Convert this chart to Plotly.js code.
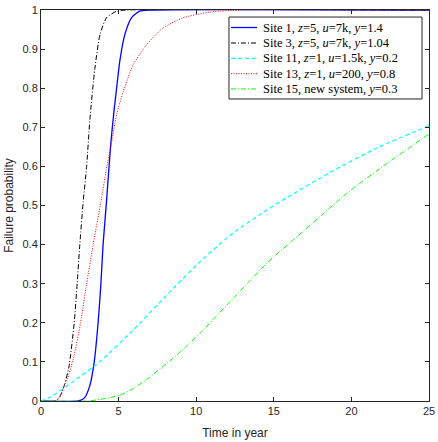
<!DOCTYPE html>
<html>
<head>
<meta charset="utf-8">
<script src="https://cdn.plot.ly/plotly-3.0.1.min.js"></script>
<style>html,body{margin:0;padding:0;background:#fff;}#chart{width:438px;height:442px;}</style>
</head>
<body>
<div id="chart"></div>
<script>
// Site 1 (blue solid)
const site1T = [0, 2.4, 2.8, 3.15, 3.43, 3.68, 3.86, 4.0, 4.22, 4.5, 4.7, 4.9, 5.08, 5.4, 5.83, 6.36, 7.0, 25];
const site1P = [0, 0, 0.008, 0.04, 0.10, 0.2, 0.3, 0.4, 0.51, 0.66, 0.74, 0.81, 0.87, 0.937, 0.98, 0.997, 1, 1];
// Site 3 (black dash-dot)
const site3T = [0, 0.9, 1.2, 1.5, 1.8, 2.14, 2.33, 2.5, 2.72, 2.94, 3.15, 3.47, 3.8, 4.22, 4.87, 5.5, 25];
const site3P = [0, 0, 0.01, 0.04, 0.087, 0.2, 0.3, 0.4, 0.51, 0.6, 0.72, 0.85, 0.937, 0.98, 0.997, 1, 1];
// Site 11 (cyan dashed)
const site11T = [0, 0.6, 2.08, 3.8, 5.95, 8.1, 10.24, 12.39, 14.54, 15.83, 18.6, 21.8, 25];
const site11P = [0, 0.01, 0.05, 0.101, 0.182, 0.271, 0.356, 0.43, 0.488, 0.52, 0.584, 0.65, 0.704];
// Site 13 (red dotted)
const site13T = [0, 1.0, 1.22, 1.69, 2.08, 2.55, 2.94, 3.36, 3.86, 4.2, 4.54, 4.87, 5.3, 5.94, 6.8, 7.86, 9.15, 10.9, 13, 25];
const site13P = [0, 0, 0.013, 0.056, 0.107, 0.2, 0.3, 0.4, 0.51, 0.59, 0.66, 0.732, 0.792, 0.86, 0.911, 0.954, 0.98, 0.995, 1, 1];
// Site 15 (green dash-dot)
const site15T = [0, 3, 3.8, 5.08, 5.95, 6.9, 8.1, 9.1, 10.24, 12.39, 14.54, 16.04, 17.5, 19.7, 22.3, 25];
const site15P = [0, 0, 0.004, 0.015, 0.032, 0.058, 0.096, 0.13, 0.173, 0.263, 0.352, 0.405, 0.455, 0.531, 0.608, 0.683];

const legendNames = [
  "Site 1, <i>z</i>=5, <i>u</i>=7k, <i>y</i>=1.4",
  "Site 3, <i>z</i>=5, <i>u</i>=7k, <i>y</i>=1.04",
  "Site 11, <i>z</i>=1, <i>u</i>=1.5k, <i>y</i>=0.2",
  "Site 13, <i>z</i>=1, <i>u</i>=200, <i>y</i>=0.8",
  "Site 15, new system, <i>y</i>=0.3"
];
const xTickVals = [0, 5, 10, 15, 20, 25];
const yTickVals = [0, 0.1, 0.2, 0.3, 0.4, 0.5, 0.6, 0.7, 0.8, 0.9, 1];

const seriesT = [site1T, site3T, site11T, site13T, site15T];
const seriesP = [site1P, site3P, site11P, site13P, site15P];
const lineStyles = [
  {color: '#0000ff', width: 1.3},
  {color: '#000000', width: 1, dash: '5px,2px,1px,2px'},
  {color: '#00ffff', width: 1.2, dash: '4px,3px'},
  {color: '#ff0000', width: 1, dash: '1px,1.5px'},
  {color: '#00ff00', width: 1, dash: '5px,2px,1px,2px'}
];

const traces = seriesT.map((t, i) => ({
  x: t, y: seriesP[i], name: legendNames[i], mode: 'lines',
  line: Object.assign({shape: 'spline', smoothing: 0.6}, lineStyles[i]),
  showlegend: false
}));

// Custom legend (box, line samples, labels) in paper coordinates
const legBox = {x0: 0.4845, x1: 0.982, y0: 0.7724, y1: 0.982};
const legRowY = [0.9552, 0.9156, 0.8765, 0.8371, 0.798];
const legSampleX = [0.4897, 0.5567];
const legTextX = 0.566;

const shapes = [{
  type: 'rect', xref: 'paper', yref: 'paper',
  x0: legBox.x0, x1: legBox.x1, y0: legBox.y0, y1: legBox.y1,
  line: {color: '#262626', width: 1}, fillcolor: '#ffffff', layer: 'above'
}];
const annotations = [];
legRowY.forEach((yy, i) => {
  shapes.push({
    type: 'line', xref: 'paper', yref: 'paper',
    x0: legSampleX[0], x1: legSampleX[1], y0: yy, y1: yy,
    line: lineStyles[i], layer: 'above'
  });
  annotations.push({
    xref: 'paper', yref: 'paper', x: legTextX, y: yy,
    xanchor: 'left', yanchor: 'middle', showarrow: false,
    text: legendNames[i],
    font: {family: 'Liberation Serif', size: 12.5, color: '#000'}
  });
});

const axisCommon = {
  showgrid: false, zeroline: false, showline: true, mirror: 'ticks',
  linecolor: '#262626', linewidth: 1, ticks: 'inside', ticklen: 4,
  tickcolor: '#262626', tickfont: {family: '"Liberation Sans", Arial', size: 11, color: '#262626'},
  automargin: false
};

const layout = {
  width: 438, height: 442,
  margin: {l: 41, r: 9, t: 10, b: 41},
  paper_bgcolor: '#fff', plot_bgcolor: '#fff',
  showlegend: false,
  font: {family: '"Liberation Sans", Arial', size: 11, color: '#262626'},
  xaxis: Object.assign({}, axisCommon, {
    range: [0, 25], tickvals: xTickVals, ticktext: xTickVals.map(String),
    title: {text: 'Time in year', font: {size: 12, color: '#262626'}, standoff: 12}
  }),
  yaxis: Object.assign({}, axisCommon, {
    range: [0, 1], tickvals: yTickVals, ticktext: yTickVals.map(String),
    title: {text: 'Failure probability', font: {size: 12, color: '#262626'}, standoff: 6}
  }),
  shapes: shapes,
  annotations: annotations
};

Plotly.newPlot('chart', traces, layout, {staticPlot: true, displayModeBar: false});
</script>
</body>
</html>
